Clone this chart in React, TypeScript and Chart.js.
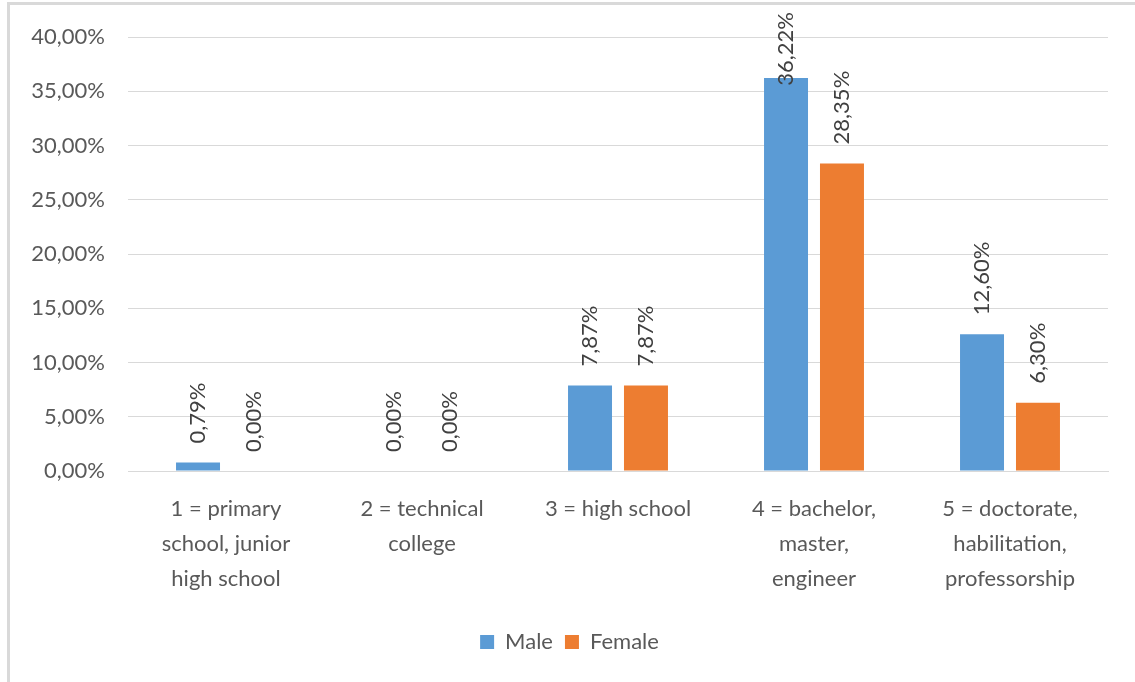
import React, { useEffect, useRef } from "react";
import { Chart, registerables } from "chart.js";

Chart.register(...registerables);

const categories: string[][] = [
  ["1 = primary", "school, junior", "high school"],
  ["2 = technical", "college"],
  ["3 = high school"],
  ["4 = bachelor,", "master,", "engineer"],
  ["5 = doctorate,", "habilitation,", "professorship"],
];
const maleValues = [0.79, 0.0, 7.87, 36.22, 12.6];
const femaleValues = [0.0, 0.0, 7.87, 28.35, 6.3];
const yMin = 0;
const yMax = 40;
const yStep = 5;

const FONT = "Lato, 'Open Sans', sans-serif";
const fmt = (v: number) => v.toFixed(2).replace(".", ",") + "%";

const dataLabelPlugin = {
  id: "rotatedDataLabels",
  afterDatasetsDraw(chart: any) {
    const ctx = chart.ctx as CanvasRenderingContext2D;
    ctx.save();
    ctx.font = `22px ${FONT}`;
    ctx.fillStyle = "#404040";
    chart.data.datasets.forEach((ds: any, di: number) => {
      const meta = chart.getDatasetMeta(di);
      meta.data.forEach((el: any, i: number) => {
        const text = fmt(ds.data[i]);
        const w = ctx.measureText(text).width;
        const start = Math.max(el.y - 19, 12 + w);
        ctx.save();
        ctx.translate(el.x, start);
        ctx.rotate(-Math.PI / 2);
        ctx.textAlign = "left";
        ctx.textBaseline = "middle";
        ctx.fillText(text, 0, 0);
        ctx.restore();
      });
    });
    ctx.restore();
  },
};

export default function App() {
  const ref = useRef<HTMLCanvasElement | null>(null);
  useEffect(() => {
    if (!ref.current) return;
    const chart = new Chart(ref.current, {
      type: "bar",
      data: {
        labels: categories,
        datasets: [
          {
            label: "Male",
            data: maleValues,
            backgroundColor: "#5B9BD5",
            barPercentage: 0.786,
            categoryPercentage: 0.571,
          },
          {
            label: "Female",
            data: femaleValues,
            backgroundColor: "#ED7D31",
            barPercentage: 0.786,
            categoryPercentage: 0.571,
          },
        ],
      },
      options: {
        animation: false,
        responsive: true,
        maintainAspectRatio: false,
        layout: { padding: { left: 31, right: 27, top: 37, bottom: 19 } },
        scales: {
          x: {
            grid: { display: false, drawTicks: false },
            border: { display: true, color: "#d9d9d9" },
            ticks: {
              color: "#595959",
              font: { family: FONT, size: 22, lineHeight: 1.6 },
              padding: 20,
              maxRotation: 0,
              autoSkip: false,
            },
            afterFit: (s: any) => {
              s.height = 148;
            },
          },
          y: {
            min: yMin,
            max: yMax,
            grid: { color: "#d9d9d9", drawTicks: false },
            border: { display: false },
            ticks: {
              stepSize: yStep,
              color: "#595959",
              font: { family: FONT, size: 22 },
              padding: 23,
              callback: (v: any) => fmt(Number(v)),
            },
            afterFit: (s: any) => {
              s.width = 97;
            },
          },
        },
        plugins: {
          legend: {
            position: "bottom",
            labels: {
              boxWidth: 14,
              boxHeight: 14,
              color: "#595959",
              font: { family: FONT, size: 22 },
              padding: 12,
            },
          },
          tooltip: { enabled: false },
        },
      },
      plugins: [dataLabelPlugin],
    });
    return () => chart.destroy();
  }, []);

  return (
    <div style={{ position: "fixed", left: 0, top: 0, width: 1135, height: 682, background: "#fff" }}>
      <div
        style={{
          position: "absolute",
          left: 7,
          top: 2,
          right: 0,
          bottom: 0,
          borderLeft: "3px solid #d9d9d9",
          borderTop: "3px solid #d9d9d9",
        }}
      />
      <canvas ref={ref} style={{ position: "absolute", left: 0, top: 0, width: 1135, height: 682 }} />
    </div>
  );
}
